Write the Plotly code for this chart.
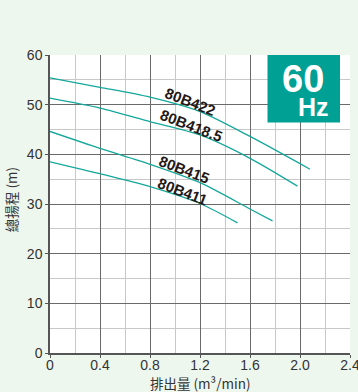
import plotly.graph_objects as go

# ---- data ----
q_80B422 = [0, 0.4, 0.8, 1.2, 1.6, 2.08]
h_80B422 = [55.4, 53.5, 51.5, 48.6, 43.6, 37.0]

q_80B418_5 = [0, 0.4, 0.8, 1.2, 1.6, 1.98]
h_80B418_5 = [51.3, 49.3, 46.6, 43.9, 39.2, 33.6]

q_80B415 = [0, 0.4, 0.8, 1.2, 1.6, 1.78]
h_80B415 = [44.6, 41.2, 38.0, 34.3, 29.0, 26.6]

q_80B411 = [0, 0.4, 0.8, 1.2, 1.5]
h_80B411 = [38.5, 36.1, 33.5, 30.1, 26.2]

series_names = ["80B422", "80B418.5", "80B415", "80B411"]
x_tickvals = [0, 0.4, 0.8, 1.2, 1.6, 2.0, 2.4]
x_ticktext = ["0", "0.4", "0.8", "1.2", "1.6", "2.0", "2.4"]
y_tickvals = [0, 10, 20, 30, 40, 50, 60]
y_ticktext = ["0", "10", "20", "30", "40", "50", "60"]

TEAL = "#14a79b"
BOX = "#00a094"
INK = "#231815"
BG = "#eef7ee"
FONT = "Liberation Sans, Arial, sans-serif"
CJK = "Noto Sans CJK TC, Noto Sans CJK JP, sans-serif"

fig = go.Figure()
for q, h, name in [(q_80B422, h_80B422, series_names[0]),
                   (q_80B418_5, h_80B418_5, series_names[1]),
                   (q_80B415, h_80B415, series_names[2]),
                   (q_80B411, h_80B411, series_names[3])]:
    fig.add_trace(go.Scatter(x=q, y=h, mode="lines", name=name,
                             line=dict(color=TEAL, width=1.3, shape="spline", smoothing=0.8),
                             hoverinfo="skip"))

# curve labels
label_pos = {"80B422": (1.12, 50.6), "80B418.5": (1.13, 45.9),
             "80B415": (1.075, 37.0), "80B411": (1.065, 32.6)}
for name in series_names:
    x, y = label_pos[name]
    fig.add_annotation(x=x, y=y, xref="x", yref="y", text="<b>%s</b>" % name,
                       showarrow=False, textangle=21,
                       font=dict(family=FONT, size=15, color=INK),
                       xanchor="center", yanchor="middle")

# 60 Hz box
fig.add_shape(type="rect", xref="x", yref="y", x0=1.74, x1=2.32, y0=46.4, y1=60,
              fillcolor=BOX, line=dict(width=0), layer="above")
fig.add_annotation(x=2.02, y=55.2, xref="x", yref="y", text="<b>60</b>", showarrow=False,
                   font=dict(family=FONT, size=38, color="white"),
                   xanchor="center", yanchor="middle")
fig.add_annotation(x=2.11, y=49.5, xref="x", yref="y", text="<b>Hz</b>", showarrow=False,
                   font=dict(family=FONT, size=25, color="white"),
                   xanchor="center", yanchor="middle")

# axis titles
fig.add_annotation(x=-0.13, y=0.513, xref="paper", yref="paper", text="總揚程 (m)",
                   showarrow=False, textangle=-90,
                   font=dict(family=CJK, size=13.5, color="#333333"),
                   xanchor="center", yanchor="middle")
fig.add_annotation(x=0.5, y=-0.10, xref="paper", yref="paper", text="排出量 (m³/min)",
                   showarrow=False,
                   font=dict(family=CJK, size=13.5, color="#333333"),
                   xanchor="center", yanchor="middle")

axis_common = dict(showline=True, linecolor="#555555", linewidth=1.5,
                   ticks="outside", ticklen=3, tickcolor="#555555", tickwidth=1,
                   showgrid=True, gridcolor="#6a6a6a", gridwidth=1.2,
                   zeroline=False, ticklabeloverflow="allow", automargin=False,
                   tickfont=dict(family=FONT, size=14, color="#333333"))

fig.update_xaxes(range=[0, 2.4], tickvals=x_tickvals, ticktext=x_ticktext,
                 ticklabelstandoff=-5,
                 minor=dict(dtick=0.2, tick0=0, showgrid=True, gridcolor="#c8c8c8", gridwidth=1),
                 **axis_common)
fig.update_yaxes(range=[0, 60], tickvals=y_tickvals, ticktext=y_ticktext,
                 minor=dict(dtick=5, tick0=0, showgrid=True, gridcolor="#c8c8c8", gridwidth=1),
                 **axis_common)

fig.update_layout(width=358, height=392,
                  margin=dict(l=50, r=8, t=55, b=39),
                  paper_bgcolor=BG, plot_bgcolor="white",
                  showlegend=False)

fig.write_html("out.html", config={"displayModeBar": False},
               post_script="document.body.style.margin='0';document.body.style.background='%s';" % BG)
